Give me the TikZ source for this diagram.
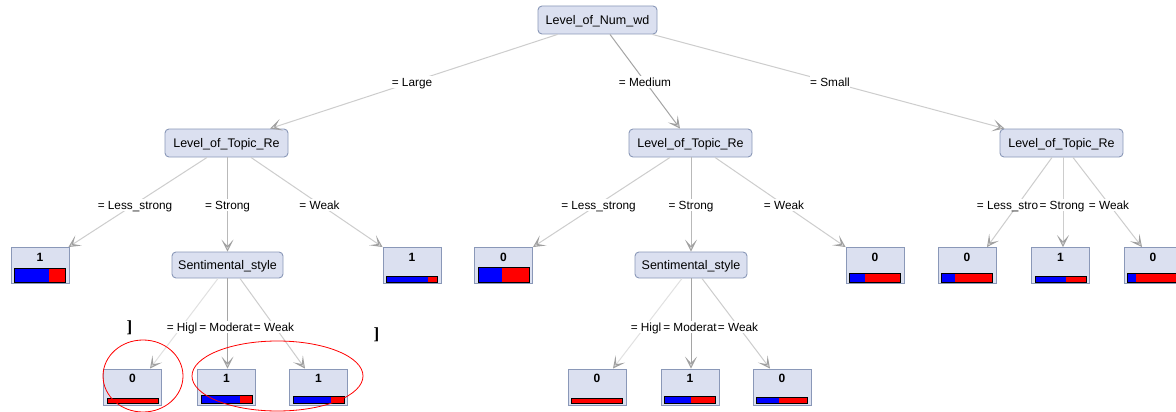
\documentclass[tikz,border=0pt]{standalone}
\usepackage{fontspec}
\setmainfont{Liberation Sans}
\newfontfamily\serifbold{Liberation Serif}
\usetikzlibrary{arrows.meta,calc}
\definecolor{nodefill}{RGB}{219,224,240}
\definecolor{nodeborder}{RGB}{138,152,184}
\definecolor{edgegray}{RGB}{205,205,205}
\definecolor{edgemid}{RGB}{185,185,185}
\definecolor{edgedark}{RGB}{165,165,165}
\definecolor{edgelight}{RGB}{225,225,225}
\definecolor{tipgray}{RGB}{160,160,160}
\definecolor{tipfill}{RGB}{232,232,232}
\tikzset{
  innernode/.style={draw=nodeborder, fill=nodefill, rounded corners=4pt, line width=0.9pt,
    minimum height=28pt, inner sep=0pt, text height=9pt, text depth=0pt,
    font=\fontsize{12.5}{14}\selectfont},
  leafbox/.style={draw=nodeborder, fill=nodefill, line width=0.9pt,
    minimum width=58pt, minimum height=36pt, inner sep=0pt},
  leafnum/.style={font=\fontsize{12}{14}\selectfont\bfseries, inner sep=0pt},
  elabel/.style={fill=white, inner xsep=0.3pt, inner ysep=1.5pt, text height=8.5pt, text depth=0pt,
    font=\fontsize{11.8}{13}\selectfont},
  edge/.style={draw=edgegray, line width=1pt,
    -{Stealth[length=12pt, width=12pt, inset=6.5pt, color=tipgray, fill=tipfill, line width=1pt]}},
  barred/.style={fill=red},
  barblue/.style={fill=blue},
  barframe/.style={draw=black, line width=0.8pt},
  annot/.style={draw=red, line width=0.8pt},
  stray/.style={font=\serifbold\bfseries\fontsize{17}{17}\selectfont, inner sep=0pt}
}
\newcommand{\mkleaf}[6]{%
  \node[leafbox] (#1) at (#2,#3) {};
  \node[leafnum, anchor=base] at ($(#1.north)+(0,14)$) {#4};
  \fill[barred] ($(#1.south west)+(4,-2-#6)$) rectangle ($(#1.south east)+(-4,-2)$);
  \fill[barblue] ($(#1.south west)+(4,-2-#6)$) rectangle ($(#1.south west)+(4+50*#5,-2)$);
  \draw[barframe] ($(#1.south west)+(4,-2-#6)$) rectangle ($(#1.south east)+(-4,-2)$);
}
\begin{document}
\begin{tikzpicture}[x=1pt, y=-1pt]
\useasboundingbox[fill=white] (0,0) rectangle (1176,412);

% inner nodes
\node[innernode, minimum width=119pt] (root) at (597.5,20) {Level\_of\_Num\_wd};
\node[innernode, minimum width=123pt] (ta) at (226.5,143) {Level\_of\_Topic\_Re};
\node[innernode, minimum width=123pt] (tb) at (690.5,143) {Level\_of\_Topic\_Re};
\node[innernode, minimum width=123pt] (tc) at (1061.5,143) {Level\_of\_Topic\_Re};
\node[innernode, minimum width=111pt, minimum height=26pt] (sa) at (227.5,265) {Sentimental\_style};
\node[innernode, minimum width=112pt, minimum height=26pt] (sb) at (691,265) {Sentimental\_style};

% leaves
\mkleaf{la1}{40}{265.5}{1}{0.69}{14}
\mkleaf{la3}{412}{265.5}{1}{0.82}{6}
\mkleaf{lb1}{503.5}{265.5}{0}{0.48}{15}
\mkleaf{lb3}{875}{265.5}{0}{0.30}{9}
\mkleaf{lc1}{967}{265.5}{0}{0.27}{9}
\mkleaf{lc2}{1060.5}{265.5}{1}{0.625}{6}
\mkleaf{lc3}{1153}{265.5}{0}{0.17}{9}
\mkleaf{sa1}{132.5}{387}{0}{0}{5}
\mkleaf{sa2}{226.5}{387}{1}{0.77}{8}
\mkleaf{sa3}{318.5}{387}{1}{0.76}{7}
\mkleaf{sb1}{597}{387}{0}{0}{5}
\mkleaf{sb2}{690}{387}{1}{0.53}{7}
\mkleaf{sb3}{782}{387}{0}{0.45}{6}

% edges
\draw[edge] ([xshift=-40pt]root.south) -- ([xshift=43.5pt]ta.north);
\draw[edge, draw=edgedark] ([xshift=12.5pt]root.south) -- ([xshift=-10.5pt]tb.north);
\draw[edge] ([xshift=55pt]root.south) -- ([xshift=-57pt]tc.north);

\draw[edge] ([xshift=-19.5pt]ta.south) -- ([xshift=-1pt]la1.north east);
\draw[edge, draw=edgemid] (sa.north |- ta.south) -- (sa.north);
\draw[edge] ([xshift=24.5pt]ta.south) -- (la3.north west);

\draw[edge] ([xshift=-20.5pt]tb.south) -- (lb1.north east);
\draw[edge, draw=edgemid] (sb.north |- tb.south) -- (sb.north);
\draw[edge] ([xshift=24.5pt]tb.south) -- (lb3.north west);

\draw[edge] ([xshift=-9.5pt]tc.south) -- ([xshift=20pt]lc1.north);
\draw[edge] ([xshift=1.5pt]tc.south) -- ([xshift=2.5pt]lc2.north);
\draw[edge] ([xshift=11.5pt]tc.south) -- ([xshift=-11pt]lc3.north);

\draw[edge, draw=edgelight] ([xshift=-9.5pt]sa.south) -- ([xshift=17.5pt]sa1.north);
\draw[edge, draw=edgedark] (sa.south) -- (sa.south |- sa2.north);
\draw[edge] ([xshift=12.5pt]sa.south) -- ([xshift=-13.5pt]sa3.north);

\draw[edge, draw=edgelight] ([xshift=-9pt]sb.south) -- ([xshift=16pt]sb1.north);
\draw[edge, draw=edgedark] (sb.south) -- (sb.south |- sb2.north);
\draw[edge] ([xshift=11pt]sb.south) -- ([xshift=-12pt]sb3.north);

% edge labels
\node[elabel] (e1) at (412,82) {= Large};
\node[elabel] (e2) at (645,82) {= Medium};
\node[elabel] (e3) at (830,82) {= Small};
\node[elabel] (e4) at (135,205) {= Less\_strong};
\node[elabel] (e5) at (227.5,205) {= Strong};
\node[elabel] (e6) at (319.5,205) {= Weak};
\node[elabel] (e7) at (598.5,205) {= Less\_strong};
\node[elabel] (e8) at (691,205) {= Strong};
\node[elabel] (e9) at (784,205) {= Weak};
\node[elabel] (e10) at (1007.5,205) {= Less\_stro};
\node[elabel] (e11) at (1062,205) {= Strong};
\node[elabel] (e12) at (1109,205) {= Weak};
\node[elabel] (e13) at (182,327) {= Higl};
\node[elabel] (e14) at (226,327) {= Moderat};
\node[elabel] (e15) at (274,327) {= Weak};
\node[elabel] (e16) at (646,327) {= Higl};
\node[elabel] (e17) at (690,327) {= Moderat};
\node[elabel] (e18) at (738,327) {= Weak};

% annotations
\draw[annot] (143,376) ellipse [x radius=40pt, y radius=36pt];
\draw[annot] (277.5,376) ellipse [x radius=85.5pt, y radius=35pt];
\node[stray] (br1) at (129.5,327.5) {]};
\node[stray] (br2) at (376.5,334.5) {]};
\end{tikzpicture}
\end{document}
